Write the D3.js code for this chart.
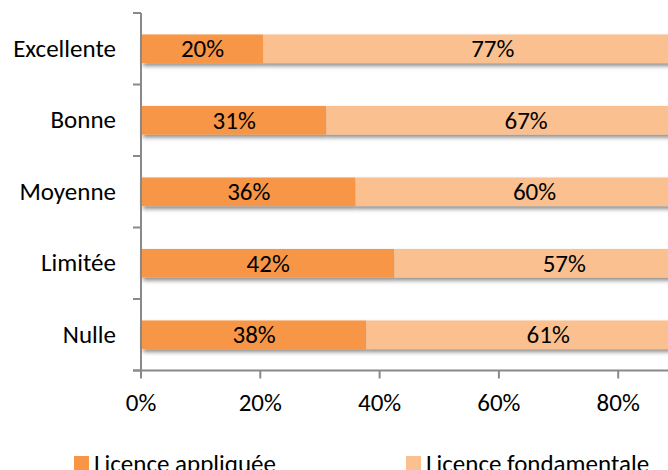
<!DOCTYPE html>
<html>
<head>
<meta charset="utf-8">
<script src="https://cdn.jsdelivr.net/npm/d3@7"></script>
<style>
  html, body { margin: 0; padding: 0; background: #fff; overflow: hidden; }
  svg { display: block; }
  text { font-family: Carlito, "Open Sans", Lato, sans-serif; fill: #000; }
</style>
</head>
<body>
<svg id="chart" width="668" height="470"></svg>
<script>
const categories = ["Excellente", "Bonne", "Moyenne", "Limitée", "Nulle"];
const seriesNames = ["Licence appliquée", "Licence fondamentale"];
const applied = [20.3, 30.9, 35.8, 42.3, 37.6];
const fundamental = [77, 67, 60, 57, 61];
const xTicks = [0, 20, 40, 60, 80];
const colors = ["#F79646", "#FAC090"];

const FS = 25;
const svg = d3.select("#chart");
const defs = svg.append("defs");
const f = defs.append("filter").attr("id", "shadow")
  .attr("x", "-5%").attr("y", "-30%").attr("width", "110%").attr("height", "180%");
f.append("feDropShadow").attr("dx", 1).attr("dy", 3).attr("stdDeviation", 2)
  .attr("flood-color", "#000").attr("flood-opacity", 0.45);

const x = d3.scaleLinear().domain([0, 100]).range([142, 738.5]);
const y = d3.scaleBand().domain(categories).range([13, 370.5])
  .paddingInner(0.6).paddingOuter(0.3);

const rows = categories.map((c, i) => ({ cat: c, a: applied[i], f: fundamental[i] }));

// bars
const g = svg.append("g");
rows.forEach(r => {
  const segs = [
    { x0: 0, x1: r.a, v: r.a, c: colors[0] },
    { x0: r.a, x1: r.a + r.f, v: r.f, c: colors[1] }
  ];
  const rg = g.append("g").attr("filter", "url(#shadow)");
  rg.selectAll("rect").data(segs).join("rect")
    .attr("x", d => x(d.x0))
    .attr("y", y(r.cat))
    .attr("width", d => x(d.x1) - x(d.x0))
    .attr("height", y.bandwidth())
    .attr("fill", d => d.c);
  g.selectAll(null).data(segs).join("text")
    .attr("x", d => (x(d.x0) + x(d.x1)) / 2)
    .attr("y", y(r.cat) + y.bandwidth() / 2 + 8.5)
    .attr("text-anchor", "middle")
    .attr("font-size", FS)
    .text(d => Math.round(d.v) + "%");
});

// axes
const axisColor = "#898989";
const step = y.step();
const y0 = y.range()[0], y1 = y.range()[1];
svg.append("line").attr("x1", x(0) - 1).attr("x2", x(0) - 1)
  .attr("y1", y0).attr("y2", y1).attr("stroke", axisColor).attr("stroke-width", 2);
d3.range(categories.length + 1).forEach(i => {
  const yy = y0 + i * step;
  svg.append("line").attr("x1", x(0) - 9).attr("x2", x(0) - 1)
    .attr("y1", yy).attr("y2", yy).attr("stroke", axisColor).attr("stroke-width", 2);
});
svg.append("line").attr("x1", x(0) - 9).attr("x2", 668)
  .attr("y1", y1).attr("y2", y1).attr("stroke", axisColor).attr("stroke-width", 2);
xTicks.forEach(t => {
  svg.append("line").attr("x1", x(t) - 1).attr("x2", x(t) - 1)
    .attr("y1", y1).attr("y2", y1 + 8).attr("stroke", axisColor).attr("stroke-width", 2);
  svg.append("text").attr("x", x(t) - 1).attr("y", 411)
    .attr("text-anchor", "middle").attr("font-size", FS).text(t + "%");
});

// category labels
categories.forEach(c => {
  svg.append("text").attr("x", 116).attr("y", y(c) + y.bandwidth() / 2 + 8)
    .attr("text-anchor", "end").attr("font-size", FS).text(c);
});

// legend
const legX = [74, 406];
seriesNames.forEach((n, i) => {
  svg.append("rect").attr("x", legX[i]).attr("y", 456).attr("width", 15).attr("height", 15)
    .attr("fill", colors[i]);
  svg.append("text").attr("x", legX[i] + 20).attr("y", 472)
    .attr("font-size", FS).text(n);
});
</script>
</body>
</html>
